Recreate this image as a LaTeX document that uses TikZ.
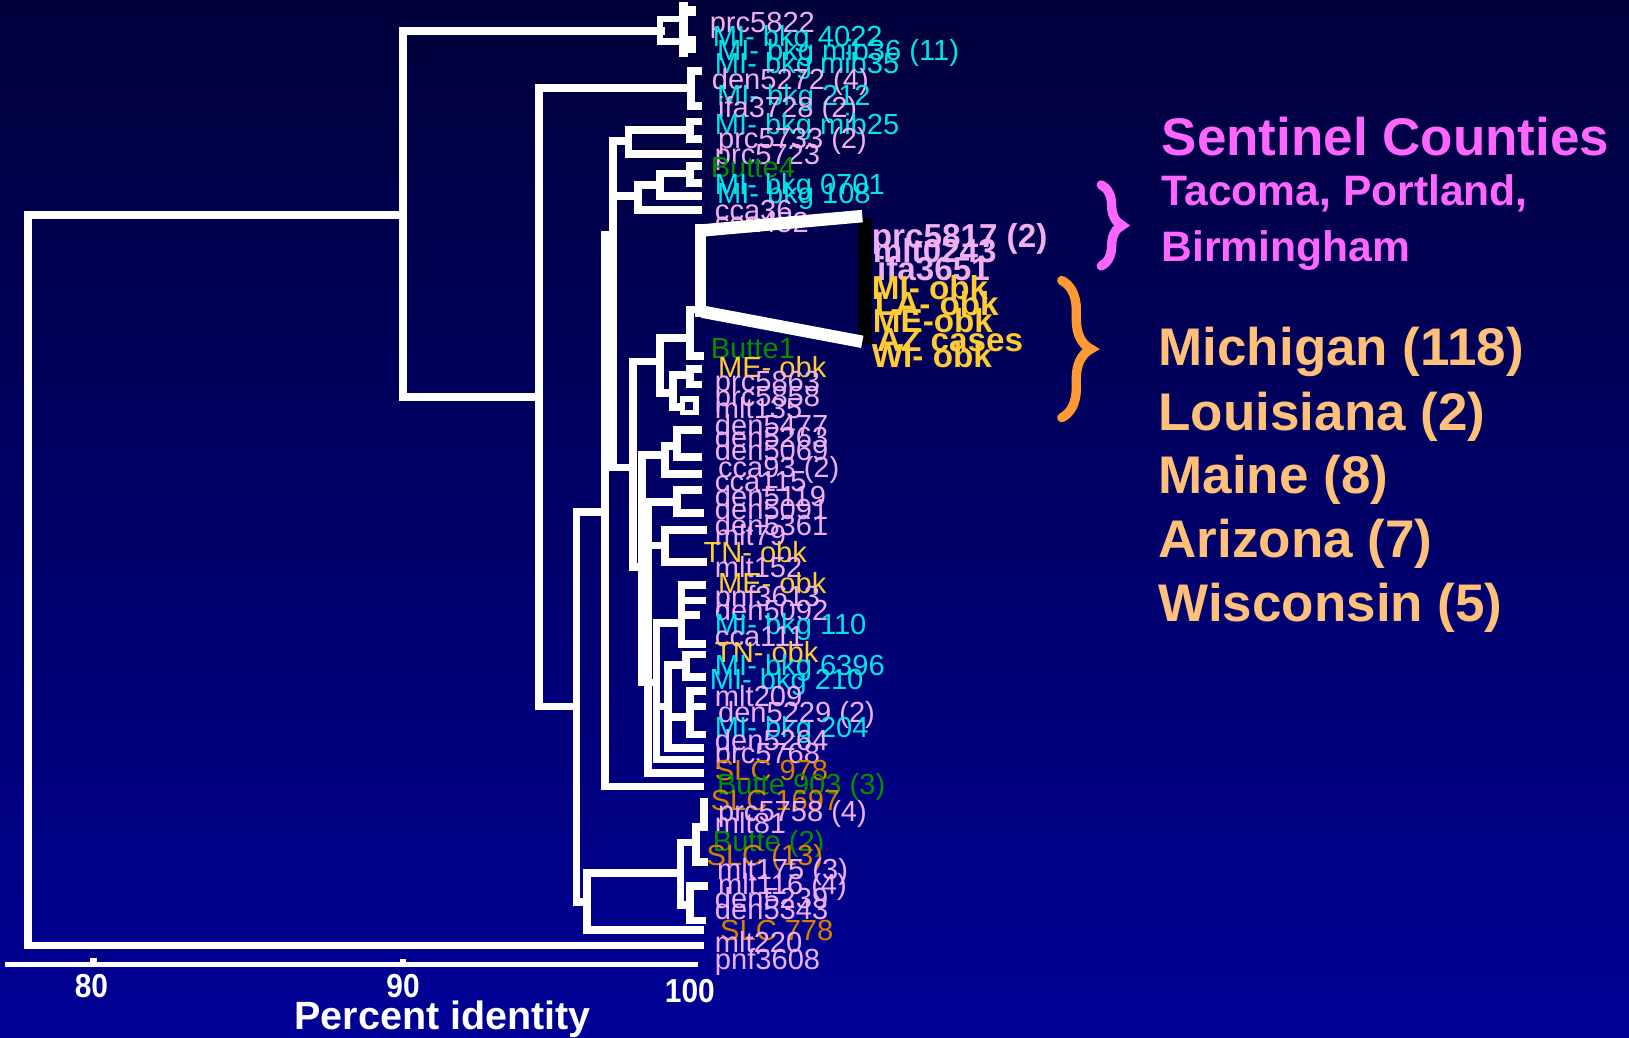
\documentclass[tikz,border=0pt]{standalone}
\usepackage{fontspec}
\setmainfont{Liberation Sans}
\usetikzlibrary{decorations.pathreplacing}
\definecolor{bgtop}{HTML}{00003A}
\definecolor{bgbot}{HTML}{000096}
\definecolor{lpink}{HTML}{F0B0F0}
\definecolor{lcyan}{HTML}{00E6E6}
\definecolor{lgreen}{HTML}{009000}
\definecolor{lyellow}{HTML}{FFCC33}
\definecolor{lorange}{HTML}{D98000}
\definecolor{mag}{HTML}{FF66FF}
\definecolor{peach}{HTML}{FFC07A}
\definecolor{braceor}{HTML}{FF9933}
\begin{document}
\begin{tikzpicture}[x=1pt,y=-1pt,
  tree/.style={draw=white,line width=7.5pt,line join=miter,line cap=rect},
  leaf/.style={anchor=base west,inner sep=0pt,font=\fontsize{28}{28}\selectfont},
  bleaf/.style={anchor=base west,inner sep=0pt,font=\fontsize{32}{32}\selectfont\bfseries},
  axlab/.style={anchor=base,inner sep=0pt,text=white,font=\fontsize{32}{32}\selectfont\bfseries},
  bigtxt/.style={anchor=base west,inner sep=0pt,font=\fontsize{51}{51}\selectfont\bfseries},
  midtxt/.style={anchor=base west,inner sep=0pt,font=\fontsize{41}{41}\selectfont\bfseries},
  bracestyle/.style={line width=9pt,decorate,line cap=round}]
\useasboundingbox (0,0) rectangle (1568,999);
\shade[top color=bgtop,bottom color=bgbot] (0,0) rectangle (1568,999);

% ---- tree ----
\draw[tree] (388,207) -- (27,207) -- (27,910) -- (674,910);
\draw[tree] (636,30) -- (388,30) -- (388,382) -- (519,382);
% top cluster box
\draw[tree,line width=6pt] (658,18) -- (635,18) -- (635,40) -- (658,40);
\draw[tree,line width=8pt] (658,6) -- (658,51);
\fill[white] (660,6) rectangle (670,15);
\fill[white] (660,35) rectangle (670,51);
% den5272 cluster
\draw[tree] (664,85) -- (519,85) -- (519,680) -- (555,680);
\draw[tree] (672,68) -- (665,68) -- (665,102) -- (672,102);
% F
\draw[tree] (605,136) -- (590,136) -- (590,450) -- (609,450);
\draw[tree] (664,125) -- (605,125) -- (605,148) -- (672,148);
\draw[tree] (672,117) -- (664,117) -- (664,134) -- (672,134);
\draw[tree] (590,189) -- (614,189);
\draw[tree] (635,178) -- (614,178) -- (614,202) -- (672,202);
\draw[tree] (662,167) -- (635,167) -- (635,189) -- (672,189);
\draw[tree] (672,160) -- (664,160) -- (664,176) -- (672,176);
% B, D, E
\draw[tree] (590,226) -- (582,226) -- (582,757) -- (674,757);
\draw[tree] (582,493) -- (555,493) -- (555,868) -- (565,868);
\draw[tree] (655,840) -- (565,840) -- (565,895) -- (674,895);
\draw[tree] (655,811) -- (655,871);
\draw[tree] (655,811) -- (670,811);
\draw[tree] (678,796) -- (670,796) -- (670,830) -- (678,830);
\draw[tree] (678,772) -- (678,796);
\draw[tree] (655,871) -- (664,871);
\draw[tree] (678,853) -- (664,853) -- (664,886) -- (676,886);
% G
\draw[tree] (635,348) -- (609,348) -- (609,546) -- (618,546);
\draw[tree] (664,325) -- (635,325) -- (635,378) -- (648,378);
\draw[tree] (677,298) -- (664,298) -- (664,343) -- (674,343);
\draw[tree] (664,361) -- (648,361) -- (648,392) -- (656,392);
\draw[tree] (672,355) -- (664,355) -- (664,370) -- (672,370);
\draw[tree,line width=5pt] (657,384) rectangle (670,397);
% H and below
\draw[tree] (618,438) -- (618,657);
\draw[tree] (618,438) -- (640,438);
\draw[tree] (652,429) -- (640,429) -- (640,456) -- (672,456);
\draw[tree] (672,414) -- (652,414) -- (652,440) -- (672,440);
\draw[tree] (652,483) -- (624,483) -- (624,744) -- (674,744);
\draw[tree] (672,472) -- (652,472) -- (652,494) -- (674,494);
\draw[tree] (624,525) -- (640,525);
\draw[tree] (677,510) -- (640,510) -- (640,541) -- (677,541);
\draw[tree] (618,657) -- (632,657);
\draw[tree] (656,600) -- (632,600) -- (632,731) -- (674,731);
\draw[tree] (676,563) -- (656,563) -- (656,620) -- (676,620);
\draw[tree] (656,578) -- (676,578);
\draw[tree] (656,592) -- (670,592);
\draw[tree] (632,680) -- (643,680);
\draw[tree] (660,640) -- (643,640) -- (643,720) -- (674,720);
\draw[tree] (676,630) -- (660,630) -- (660,652) -- (676,652);
\draw[tree] (643,690) -- (664,690);
\draw[tree] (676,665) -- (664,665) -- (664,707) -- (676,707);
\draw[tree] (664,680) -- (676,680);

% ---- axis ----
\draw[white,line width=5pt] (5,928) -- (672,928);
\fill[white] (87,922) rectangle (93,928);
\fill[white] (385,923) rectangle (391,928);
\node[axlab] (t80) at (88,960) {\scalebox{0.9}[1]{80}};
\node[axlab] (t90) at (388,960) {\scalebox{0.9}[1]{90}};
\node[axlab] (t100) at (664,965) {\scalebox{0.9}[1]{100}};
\node[anchor=base,inner sep=0pt,text=white,font=\fontsize{38}{38}\selectfont\bfseries] (xlab) at (426,991) {Percent identity};

% ---- leaf labels ----
\node[leaf,text=lpink] (l1) at (683,31) {prc5822};
\node[leaf,text=lcyan] (l2) at (686,45) {MI- bkg 4022};
\node[leaf,text=lcyan] (l3) at (690,58) {MI- bkg mib36 (11)};
\node[leaf,text=lcyan] (l4) at (688,71) {MI- bkg mib35};
\node[leaf,text=lpink] (l5) at (685,86) {den5272 (4)};
\node[leaf,text=lcyan] (l6) at (690,102) {MI- bkg 212};
\node[leaf,text=lpink] (l7) at (691,113) {ifa3728 (2)};
\node[leaf,text=lcyan] (l8) at (688,129) {MI- bkg mib25};
\node[leaf,text=lpink] (l9) at (691,143) {prc5733 (2)};
\node[leaf,text=lpink] (l10) at (688,158) {prc5723};
\node[leaf,text=lgreen] (l11) at (684,171) {Butte4};
\node[leaf,text=lcyan] (l12) at (688,187) {MI- bkg 0701};
\node[leaf,text=lcyan] (l13) at (690,196) {MI- bkg 108};
\node[leaf,text=lpink] (l14) at (688,212) {cca36};
\node[leaf,text=lpink] (l15) at (688,224) {cca452};
\node[leaf,text=lgreen] (l16) at (684,345) {Butte1};
\node[leaf,text=lyellow] (l17) at (691,363) {ME- obk};
\node[leaf,text=lpink] (l18) at (688,377) {prc5863};
\node[leaf,text=lpink] (l19) at (688,391) {prc5858};
\node[leaf,text=lpink] (l20) at (688,403) {mlt135};
\node[leaf,text=lpink] (l21) at (688,419) {den5477};
\node[leaf,text=lpink] (l22) at (688,431) {den5263};
\node[leaf,text=lpink] (l23) at (688,443) {den5069};
\node[leaf,text=lpink] (l24) at (691,460) {cca93 (2)};
\node[leaf,text=lpink] (l25) at (688,473) {cca115};
\node[leaf,text=lpink] (l26) at (688,488) {den5119};
\node[leaf,text=lpink] (l27) at (688,500) {den5091};
\node[leaf,text=lpink] (l28) at (688,515) {den5361};
\node[leaf,text=lpink] (l29) at (688,525) {mlt79};
\node[leaf,text=lyellow] (l30) at (677,541) {TN- obk};
\node[leaf,text=lpink] (l31) at (688,556) {mlt152};
\node[leaf,text=lyellow] (l32) at (691,571) {ME- obk};
\node[leaf,text=lpink] (l33) at (688,584) {pnf3613};
\node[leaf,text=lpink] (l34) at (688,597) {den5092};
\node[leaf,text=lcyan] (l35) at (688,611) {MI- bkg 110};
\node[leaf,text=lpink] (l36) at (688,622) {cca111};
\node[leaf,text=lyellow] (l37) at (688,638) {TN- obk};
\node[leaf,text=lcyan] (l38) at (688,650) {MI- bkg 6396};
\node[leaf,text=lcyan] (l39) at (683,664) {MI- bkg 210};
\node[leaf,text=lpink] (l40) at (688,680) {mlt209};
\node[leaf,text=lpink] (l41) at (691,695) {den5229 (2)};
\node[leaf,text=lcyan] (l42) at (688,710) {MI- bkg 204};
\node[leaf,text=lpink] (l43) at (688,722) {den5264};
\node[leaf,text=lpink] (l44) at (688,735) {prc5768};
\node[leaf,text=lorange] (l45) at (688,751) {SLC 978};
\node[leaf,text=lgreen] (l46) at (690,765) {Butte 903 (3)};
\node[leaf,text=lorange] (l47) at (684,780) {SLC 1697};
\node[leaf,text=lpink] (l48) at (691,791) {prc5758 (4)};
\node[leaf,text=lpink] (l49) at (688,802) {mlt81};
\node[leaf,text=lgreen] (l50) at (686,820) {Butte (2)};
\node[leaf,text=lorange] (l51) at (680,833) {SLC (13)};
\node[leaf,text=lpink] (l52) at (690,847) {mlt175 (3)};
\node[leaf,text=lpink] (l53) at (691,861) {mlt116 (4)};
\node[leaf,text=lpink] (l54) at (688,874) {den5239};
\node[leaf,text=lpink] (l55) at (688,885) {den5343};
\node[leaf,text=lorange] (l56) at (693,905) {SLC 778};
\node[leaf,text=lpink] (l57) at (688,917) {mlt220};
\node[leaf,text=lpink] (l58) at (688,933) {pnf3608};

% ---- expanded outbreak cluster ----
\fill[black] (826,210) rectangle (839,331);
\draw[white,line width=12pt] (674,222) -- (830,208);
\draw[white,line width=12pt] (676,300) -- (830,329);
\draw[white,line width=11pt] (674,216) -- (674,305);
\node[bleaf,text=lpink] (c1) at (839,238) {prc5817 (2)};
\node[bleaf,text=lpink] (c2) at (840,253) {mlt0243};
\node[bleaf,text=lpink] (c3) at (844,270) {ifa3651};
\node[bleaf,text=lyellow] (c4) at (839,288) {MI- obk};
\node[bleaf,text=lyellow] (c5) at (842,304) {LA- obk};
\node[bleaf,text=lyellow] (c6) at (840,320) {ME-obk};
\node[bleaf,text=lyellow] (c7) at (844,338) {AZ cases};
\node[bleaf,text=lyellow] (c8) at (839,354) {WI- obk};

% ---- right-hand text ----
\draw[mag,bracestyle,decoration={brace,amplitude=20pt}] (1060,178) -- (1060,256);
\draw[braceor,bracestyle,decoration={brace,amplitude=28pt}] (1022,270) -- (1022,402);
\node[bigtxt,text=mag] (sc) at (1118,150) {Sentinel Counties};
\node[midtxt,text=mag] (tp) at (1118,198) {Tacoma, Portland,};
\node[midtxt,text=mag] (bh) at (1118,252) {Birmingham};
\node[bigtxt,text=peach] (s1) at (1115,352) {Michigan (118)};
\node[bigtxt,text=peach] (s2) at (1115,414) {Louisiana (2)};
\node[bigtxt,text=peach] (s3) at (1115,475) {Maine (8)};
\node[bigtxt,text=peach] (s4) at (1115,537) {Arizona (7)};
\node[bigtxt,text=peach] (s5) at (1115,598) {Wisconsin (5)};
\end{tikzpicture}
\end{document}
